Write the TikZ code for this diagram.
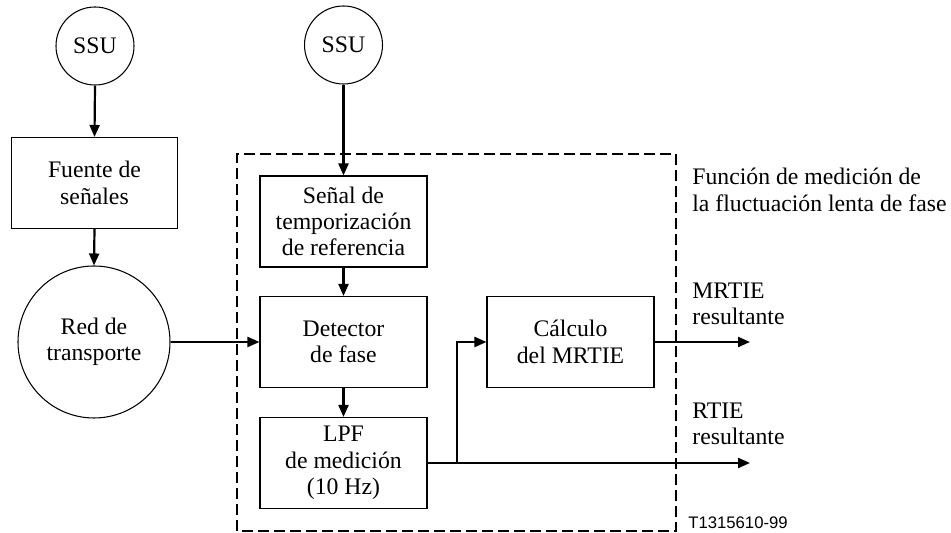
\documentclass[tikz,border=0pt]{standalone}
\usepackage{fontspec}
\setmainfont{Liberation Serif}
\newfontfamily\tagfont{Liberation Sans}
\usepackage{tikz}
\usetikzlibrary{positioning}
\usetikzlibrary {arrows.meta}

\begin{document}
\begin{tikzpicture}[
    roundnode/.style={circle, draw=black, line width=0.6pt, font=\fontsize{13.5}{15}\selectfont, align=center, inner sep=0pt},
    blocknode/.style={rectangle, draw=black, line width=0.6pt, minimum width=3.34cm, minimum height=1.82cm, font=\fontsize{13.5}{15}\selectfont, align=center, inner sep=0pt},
    labelnode/.style={anchor=west, inner sep=0pt, font=\fontsize{13.5}{15}\selectfont, align=left},
    flow/.style={line width=1.25pt, -{Triangle[length=0.24cm, width=0.2cm]}}
]
    \useasboundingbox (0, 0) rectangle (19.02, 10.66);

    % Left chain
    % - [Fig: source side]
    \node at (1.9, 9.74) [roundnode, minimum size=1.56cm](ssu_src){SSU};
    \node at (1.89, 7.0) [blocknode, minimum width=3.32cm](source){Fuente de\\señales};
    \node at (1.88, 3.82) [roundnode, minimum size=3.04cm](network){Red de\\transporte};
    % -- Connect the left chain
    \draw [flow] (ssu_src.south) -- (source.north) ;
    \draw [flow] (source.south) -- (network.north) ;

    % Measurement function
    % - [Fig: dashed frame]
    \draw [line width=1.25pt, dash pattern=on 0.22cm off 0.1cm] (4.74, 0.04) rectangle (13.52, 7.58) ;
    \node at (6.87, 9.76) [roundnode, minimum size=1.56cm](ssu_ref){SSU};
    \node at (6.87, 6.23) [blocknode](refsignal){Señal de\\temporización\\de referencia};
    \node at (6.87, 3.82) [blocknode](detector){Detector\\de fase};
    \node at (6.87, 1.40) [blocknode](lpf){LPF\\de medición\\(10 Hz)};
    \node at (11.41, 3.82) [blocknode](mrtie){Cálculo\\del MRTIE};
    % -- Connect the blocks
    \draw [flow] (ssu_ref.south) -- (refsignal.north) ;
    \draw [flow] (refsignal.south) -- (detector.north) ;
    \draw [flow] (detector.south) -- (lpf.north) ;
    \draw [flow] (network.east) -- (detector.west) ;
    % --- Branch of the LPF output
    \coordinate (branch) at (9.14, 1.40);
    \coordinate (out_mrtie) at (15.0, 3.82);
    \coordinate (out_rtie) at (15.0, 1.40);
    \draw [flow] (branch) |- (mrtie.west) ;
    \draw [flow] (mrtie.east) -- (out_mrtie) ;
    \draw [flow] (lpf.east) -- (out_rtie) ;

    % - [Labels]
    \node at (13.84, 6.86) [labelnode](funclabel){Función de medición de\\la fluctuación lenta de fase};
    \node at (13.84, 4.58) [labelnode](mrtielabel){MRTIE\\resultante};
    \node at (13.84, 2.18) [labelnode](rtielabel){RTIE\\resultante};
    \node at (13.76, 0.21) [anchor=west, inner sep=0pt, font=\tagfont\fontsize{9.5}{10}\selectfont](figtag){T1315610-99};

\end{tikzpicture}
\end{document}
